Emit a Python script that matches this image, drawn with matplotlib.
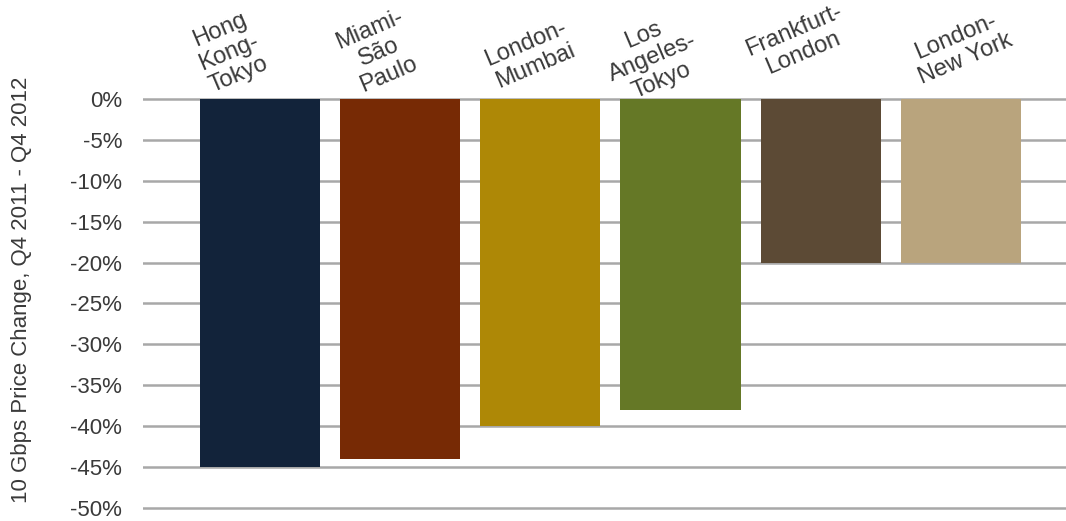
import matplotlib.pyplot as plt
import matplotlib.transforms as mtransforms
import numpy as np

plt.rcParams['font.family'] = ['Liberation Sans', 'DejaVu Sans']

# 10 Gbps wholesale price change by route
routes = ['Hong\nKong-\nTokyo', 'Miami-\nSão\nPaulo', 'London-\nMumbai',
          'Los\nAngeles-\nTokyo', 'Frankfurt-\nLondon', 'London-\nNew York']
change = [-45, -44, -40, -38, -20, -20]
colors = ['#12233a', '#772a05', '#ae8806', '#657826', '#5c4a35', '#b9a47d']
yticks = [0, -5, -10, -15, -20, -25, -30, -35, -40, -45, -50]

# nudges for the tilted route names (x in bar units, y in figure fraction)
label_dx = [-0.22, -0.15, -0.07, -0.2, -0.16, 0.0]
label_y = [0.90, 0.90, 0.894, 0.889, 0.919, 0.908]

fig = plt.figure(figsize=(10.66, 5.21), dpi=100)
ax = fig.add_axes([0.134, 0.0202, 0.866, 0.7946])

x = np.arange(len(routes))
ax.bar(x, change, width=0.857, color=colors, zorder=2)

ax.set_xlim(-0.836, 5.75)
ax.set_ylim(-50.3, 0.3)
ax.set_yticks(yticks)
ax.set_yticklabels([f'{v}%' for v in yticks], fontsize=16, color='#3a3a3a')
ax.set_xticks([])
ax.tick_params(axis='y', length=0, pad=15)
ax.yaxis.grid(True, color='#a8a8a8', linewidth=1.8, zorder=1)
for s in ax.spines.values():
    s.set_visible(False)

fig.text(22 / 1066, 1 - 290 / 521, '10 Gbps Price Change, Q4 2011 - Q4 2012',
         rotation=90, ha='center', va='center', fontsize=16, color='#3a3a3a')

# route names above the bars, tilted
trans = mtransforms.blended_transform_factory(ax.transData, fig.transFigure)
for xi, name, dx, yy in zip(x, routes, label_dx, label_y):
    ax.text(xi + dx, yy, name, transform=trans, rotation=23,
            ha='center', va='center', multialignment='center',
            fontsize=17, color='#3a3a3a', linespacing=1.15)

fig.savefig('out.png', dpi=100)
